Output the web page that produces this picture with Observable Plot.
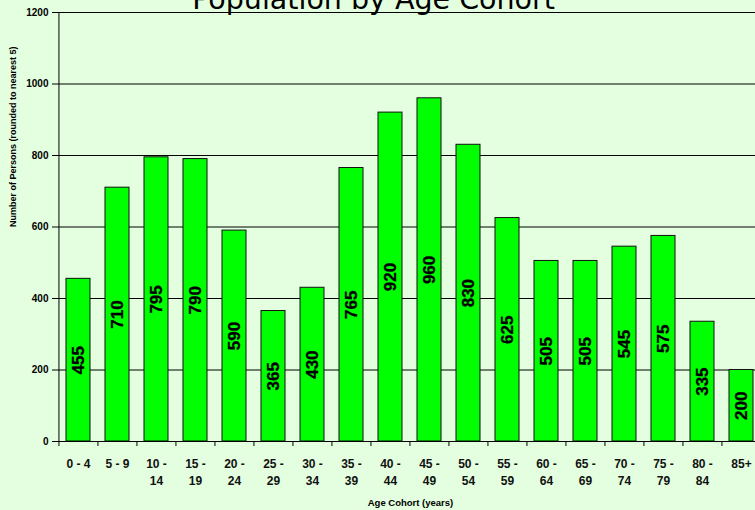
<!DOCTYPE html>
<html>
<head>
<meta charset="utf-8">
<script src="https://cdn.jsdelivr.net/npm/d3@7"></script>
<script src="https://cdn.jsdelivr.net/npm/@observablehq/plot@0.6"></script>
<style>
  html, body { margin: 0; padding: 0; background: #e3ffdf; }
  #chart { position: relative; width: 755px; height: 510px; overflow: hidden; }
</style>
</head>
<body>
<div id="chart"></div>
<script>
const cohorts = ["0-4","5-9","10-14","15-19","20-24","25-29","30-34","35-39","40-44","45-49","50-54","55-59","60-64","65-69","70-74","75-79","80-84","85+"];
const tickLabels = ["0 - 4","5 - 9","10 -\n14","15 -\n19","20 -\n24","25 -\n29","30 -\n34","35 -\n39","40 -\n44","45 -\n49","50 -\n54","55 -\n59","60 -\n64","65 -\n69","70 -\n74","75 -\n79","80 -\n84","85+"];
const persons = [455,710,795,790,590,365,430,765,920,960,830,625,505,505,545,575,335,200];
const yTicks = [0,200,400,600,800,1000,1200];
const title = "Population by Age Cohort";
const yTitle = "Number of Persons (rounded to nearest 5)";
const xTitle = "Age Cohort (years)";

const data = cohorts.map((c, i) => ({cohort: c, value: persons[i]}));

const xRange = [57.3, 761.1];
const step = (xRange[1] - xRange[0]) / cohorts.length;
const font = "'Liberation Sans', Arial, sans-serif";

const chart = Plot.plot({
  width: 755,
  height: 510,
  marginLeft: 57,
  marginRight: 0,
  marginTop: 12,
  marginBottom: 69,
  style: {background: "#e3ffdf", fontFamily: font, overflow: "hidden"},
  x: {domain: cohorts, range: xRange, paddingInner: 0.386, paddingOuter: 0.193},
  y: {domain: [0, 1200]},
  marks: [
    Plot.ruleY(yTicks.filter(d => d > 0), {stroke: "#000", strokeWidth: 1}),
    Plot.barY(data, {x: "cohort", y: "value", fill: "#00ff00", stroke: "#111", strokeWidth: 1}),
    Plot.text(data, {x: "cohort", y: d => d.value / 2, text: d => String(d.value), rotate: -90,
      fontSize: 17, fontWeight: "bold", fill: "#000", stroke: "#000", strokeWidth: 0.3}),
    Plot.ruleY([0], {stroke: "#000", strokeWidth: 1}),
    Plot.ruleX([cohorts[0]], {dx: -step / 2, y1: 0, y2: 1200, stroke: "#000", strokeWidth: 1}),
    Plot.ruleX(cohorts, {x: d => d, dx: -step / 2, y1: 0, y2: -14, stroke: "#000", strokeWidth: 1}),
    Plot.axisY({ticks: yTicks, tickSize: 5, tickPadding: 4, fontSize: 10, fontWeight: "bold",
      label: null, stroke: "#000", color: "#000", tickFormat: d => String(d)}),
    Plot.axisX({tickSize: 0, tickPadding: 14, fontSize: 12, fontWeight: "bold",
      lineHeight: 1.42, label: null, tickFormat: d => tickLabels[cohorts.indexOf(d)], color: "#111"}),
    Plot.text([yTitle], {frameAnchor: "left", dx: -44, rotate: -90, fontSize: 9, fontWeight: "bold", fill: "#000"}),
    Plot.text([xTitle], {frameAnchor: "bottom", lineAnchor: "middle", dx: 4, dy: 61, fontSize: 9.5, fontWeight: "bold", fill: "#000"}),
    Plot.text([title], {frameAnchor: "top", lineAnchor: "bottom", dx: -33, dy: -4, fontSize: 28.5,
      fontFamily: "'DejaVu Sans', Verdana, sans-serif", fill: "#000"})
  ]
});
document.getElementById("chart").appendChild(chart);
</script>
</body>
</html>
